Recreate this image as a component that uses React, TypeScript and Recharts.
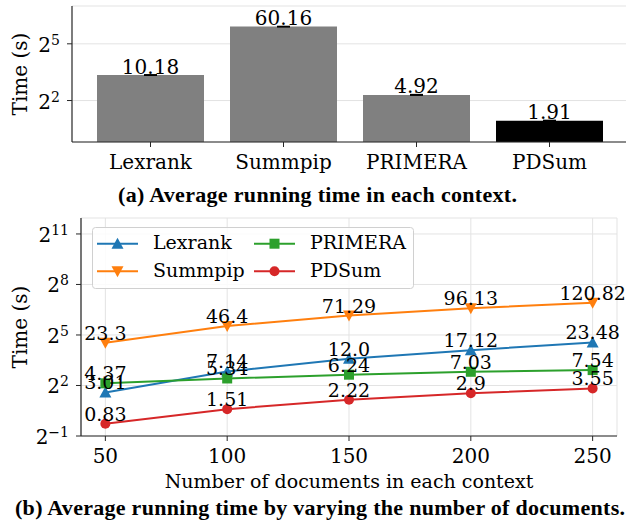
import React from 'react';
import {
  BarChart,
  Bar,
  Cell,
  ErrorBar,
  LabelList,
  LineChart,
  Line,
  XAxis,
  YAxis,
  CartesianGrid,
  Legend,
  Label
} from 'recharts';

// panel (a)
const methods = ['Lexrank', 'Summpip', 'PRIMERA', 'PDSum'];
const avgTime = [10.18, 60.16, 4.92, 1.91];
const avgErr = [0.08, 0.3, 0.05, 0.02];
const barColors = ['#808080', '#808080', '#808080', '#000000'];
const barTicks = [4, 32];

// panel (b)
const docCounts = [50, 100, 150, 200, 250];
const lexrank = ['3.01', '7.14', '12.0', '17.12', '23.48'];
const summpip = ['23.3', '46.4', '71.29', '96.13', '120.82'];
const primera = ['4.37', '5.34', '6.24', '7.03', '7.54'];
const pdsum = ['0.83', '1.51', '2.22', '2.9', '3.55'];
const lineYTicks = [0.5, 4, 32, 256, 2048];

const FONT = '"DejaVu Serif", serif';
const CAPTION_FONT = '"Liberation Serif", serif';
const SPINE = '#262626';
const GRID = '#e3e3e3';

const series = [
  { name: 'Lexrank', values: lexrank, color: '#1f77b4', marker: 'up' },
  { name: 'Summpip', values: summpip, color: '#ff7f0e', marker: 'down' },
  { name: 'PRIMERA', values: primera, color: '#2ca02c', marker: 'square' },
  { name: 'PDSum', values: pdsum, color: '#d62728', marker: 'circle' }
];

const barData = methods.map((name, i) => ({ name, time: avgTime[i], err: avgErr[i] }));

const lineData = docCounts.map((n, i) => {
  const row: any = { n };
  series.forEach(s => {
    row[s.name] = Number(s.values[i]);
  });
  return row;
});

function Marker({ cx, cy, kind, color }: any) {
  if (kind === 'up') {
    return <polygon points={`${cx},${cy - 6} ${cx - 6},${cy + 5} ${cx + 6},${cy + 5}`} fill={color} />;
  }
  if (kind === 'down') {
    return <polygon points={`${cx},${cy + 6} ${cx - 6},${cy - 5} ${cx + 6},${cy - 5}`} fill={color} />;
  }
  if (kind === 'square') {
    return <rect x={cx - 5} y={cy - 5} width={10} height={10} fill={color} />;
  }
  return <circle cx={cx} cy={cy} r={5} fill={color} />;
}

const PowTick = ({ x, y, payload }: any) => {
  const e = Math.round(Math.log2(payload.value));
  return (
    <text x={x - 5} y={y + 8} textAnchor='end' fontFamily={FONT} fontSize={20} fill='#000'>
      2
      <tspan dy={-7} fontSize={14}>
        {e < 0 ? '\u2212' + Math.abs(e) : String(e)}
      </tspan>
    </text>
  );
};

const BottomTick = ({ x, y, payload }: any) => (
  <text x={x} y={y + 20} textAnchor='middle' fontFamily={FONT} fontSize={20} fill='#000'>
    {payload.value}
  </text>
);

const yTitle = ({ viewBox }: any) => {
  const cx = viewBox.x + 26.5;
  const cy = viewBox.y + viewBox.height / 2;
  return (
    <text
      x={cx}
      y={cy}
      transform={`rotate(-90, ${cx}, ${cy})`}
      textAnchor='middle'
      fontFamily={FONT}
      fontSize={20}
      fill='#000'
    >
      Time (s)
    </text>
  );
};

const xTitle = ({ viewBox }: any) => (
  <text
    x={viewBox.x + viewBox.width / 2}
    y={viewBox.y + 52}
    textAnchor='middle'
    fontFamily={FONT}
    fontSize={19}
    fill='#000'
  >
    Number of documents in each context
  </text>
);

const LegendBox = () => (
  <svg width={322} height={62} style={{ display: 'block' }}>
    <rect x={0.5} y={0.5} width={321} height={61} rx={3} fill='rgba(255,255,255,0.85)' stroke='#d0d0d0' />
    {series.map((s, i) => {
      const col = Math.floor(i / 2);
      const row = i % 2;
      const x0 = col === 0 ? 5 : 162;
      const cy = row === 0 ? 16.7 : 44.3;
      return (
        <g key={s.name}>
          <line x1={x0} x2={x0 + 41} y1={cy} y2={cy} stroke={s.color} strokeWidth={2} />
          <Marker cx={x0 + 20.5} cy={cy} kind={s.marker} color={s.color} />
          <text x={x0 + 56} y={cy + 5.6} fontFamily={FONT} fontSize={19} fill='#000'>
            {s.name}
          </text>
        </g>
      );
    })}
  </svg>
);

export default function App() {
  return (
    <div
      style={{
        position: 'absolute',
        left: 0,
        top: 0,
        width: 626,
        height: 521,
        overflow: 'hidden',
        background: '#fff'
      }}
    >
      <div style={{ position: 'absolute', left: 0, top: 0 }}>
        <BarChart
          data={barData}
          width={640}
          height={200}
          margin={{ top: 6, right: 12, bottom: 0, left: 0 }}
          barCategoryGap={13}
        >
          <CartesianGrid vertical={false} stroke={GRID} />
          <XAxis
            dataKey='name'
            padding={{ left: 12, right: 12 }}
            height={58}
            tickSize={5}
            tick={<BottomTick />}
            axisLine={{ stroke: SPINE, strokeWidth: 1.2 }}
            tickLine={{ stroke: SPINE }}
          />
          <XAxis
            xAxisId='top'
            orientation='top'
            dataKey='name'
            height={0}
            tick={false}
            tickLine={false}
            axisLine={{ stroke: SPINE, strokeWidth: 1.2 }}
          />
          <YAxis
            scale='log'
            domain={[0.875, 128]}
            allowDataOverflow
            ticks={barTicks}
            width={72}
            tickSize={5}
            tick={<PowTick />}
            axisLine={{ stroke: SPINE, strokeWidth: 1.2 }}
            tickLine={{ stroke: SPINE }}
          >
            <Label content={yTitle} />
          </YAxis>
          <Bar dataKey='time' isAnimationActive={false}>
            {barData.map((d, i) => (
              <Cell key={d.name} fill={barColors[i]} />
            ))}
            <ErrorBar dataKey='err' width={6.5} stroke='#000' strokeWidth={1.5} direction='y' isAnimationActive={false} />
            <LabelList
              dataKey='time'
              content={({ x, y, width, value }: any) => (
                <text
                  x={Number(x) + Number(width) / 2}
                  y={Number(y) - 1.5}
                  textAnchor='middle'
                  fontFamily={FONT}
                  fontSize={20}
                  fill='#000'
                >
                  {value}
                </text>
              )}
            />
          </Bar>
        </BarChart>
      </div>

      <div style={{ position: 'absolute', left: 0, top: 200 }}>
        <LineChart
          data={lineData}
          width={626}
          height={300}
          margin={{ top: 18, right: 9, bottom: 0, left: 0 }}
        >
          <CartesianGrid stroke={GRID} />
          <XAxis
            dataKey='n'
            type='number'
            domain={[40, 260]}
            ticks={docCounts}
            height={64}
            tickSize={5}
            tick={<BottomTick />}
            axisLine={{ stroke: SPINE, strokeWidth: 1.2 }}
            tickLine={{ stroke: SPINE }}
          >
            <Label content={xTitle} />
          </XAxis>
          <XAxis
            xAxisId='top'
            orientation='top'
            type='number'
            domain={[40, 260]}
            height={0}
            tick={false}
            tickLine={false}
            axisLine={{ stroke: SPINE, strokeWidth: 1.2 }}
          />
          <YAxis
            scale='log'
            domain={[0.5, 3950]}
            allowDataOverflow
            ticks={lineYTicks}
            width={81}
            tickSize={5}
            tick={<PowTick />}
            axisLine={{ stroke: SPINE, strokeWidth: 1.2 }}
            tickLine={{ stroke: SPINE }}
          >
            <Label content={yTitle} />
          </YAxis>
          <YAxis
            yAxisId='right'
            orientation='right'
            domain={[0, 1]}
            width={0}
            tick={false}
            tickLine={false}
            axisLine={{ stroke: SPINE, strokeWidth: 1.2 }}
          />
          <Legend
            layout='vertical'
            align='center'
            verticalAlign='middle'
            wrapperStyle={{ left: 92, top: 27, width: 322, height: 62 }}
            content={() => <LegendBox />}
          />
          {series.map(s => (
            <Line
              key={s.name}
              dataKey={s.name}
              type='linear'
              stroke={s.color}
              strokeWidth={2}
              isAnimationActive={false}
              activeDot={false}
              dot={(p: any) => <Marker key={p.index} cx={p.cx} cy={p.cy} kind={s.marker} color={s.color} />}
            >
              <LabelList
                dataKey={s.name}
                content={({ x, y, index }: any) => (
                  <text
                    x={x}
                    y={Number(y) - 3}
                    textAnchor='middle'
                    fontFamily={FONT}
                    fontSize={19}
                    fill='#000'
                  >
                    {s.values[index]}
                  </text>
                )}
              />
            </Line>
          ))}
        </LineChart>
      </div>

      <svg width={626} height={521} style={{ position: 'absolute', left: 0, top: 0, pointerEvents: 'none' }}>
        <text
          x={118}
          y={202}
          textLength={399}
          lengthAdjust='spacing'
          fontFamily={CAPTION_FONT}
          fontWeight='bold'
          fontSize={22}
          fill='#000'
        >
          (a) Average running time in each context.
        </text>
        <text
          x={15}
          y={515}
          textLength={610}
          lengthAdjust='spacing'
          fontFamily={CAPTION_FONT}
          fontWeight='bold'
          fontSize={22}
          fill='#000'
        >
          (b) Average running time by varying the number of documents.
        </text>
      </svg>
    </div>
  );
}
